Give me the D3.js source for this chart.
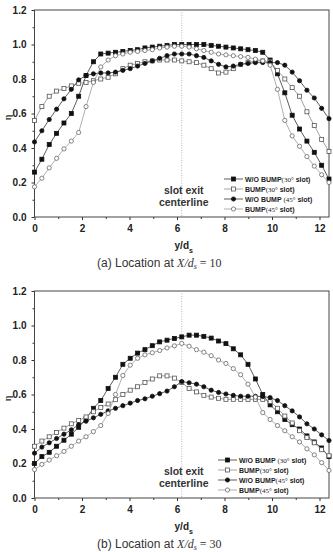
<!DOCTYPE html>
<html>
<head>
<meta charset="utf-8">
<script src="https://cdn.jsdelivr.net/npm/d3@7/dist/d3.min.js"></script>
<style>
  body { margin: 0; background: #fff; }
  svg { display: block; }
  .tick text { font-family: "Liberation Sans", Arial, sans-serif; font-weight: bold; font-size: 10px; fill: #222; }
  .tick line { stroke: #333; }
</style>
</head>
<body>
<script>
// y/ds positions of the measured points
const yds = [0, 0.31, 0.62, 0.93, 1.24, 1.55, 1.86, 2.17, 2.48, 2.79,
  3.1, 3.41, 3.72, 4.03, 4.34, 4.65, 4.96, 5.27, 5.58, 5.89,
  6.2, 6.51, 6.82, 7.13, 7.44, 7.75, 8.06, 8.37, 8.68, 8.99,
  9.3, 9.61, 9.92, 10.23, 10.54, 10.85, 11.16, 11.47, 11.78, 12.09, 12.4];

// (a) X/ds = 10
const a_woBump30 = [0.26, 0.335, 0.42, 0.485, 0.545, 0.60, 0.70, 0.82, 0.90, 0.945,
  0.95, 0.955, 0.96, 0.965, 0.97, 0.98, 0.985, 0.99, 0.995, 1.0,
  1.0, 1.0, 1.0, 1.0, 0.995, 0.99, 0.985, 0.98, 0.975, 0.97,
  0.965, 0.955, 0.91, 0.83, 0.72, 0.59, 0.51, 0.44, 0.375, 0.30, 0.22];
const a_bump30 = [0.56, 0.64, 0.70, 0.73, 0.745, 0.76, 0.775, 0.78, 0.79, 0.80,
  0.81, 0.83, 0.86, 0.88, 0.89, 0.90, 0.905, 0.91, 0.91, 0.91,
  0.905, 0.90, 0.895, 0.88, 0.86, 0.835, 0.84, 0.86, 0.885, 0.895,
  0.905, 0.905, 0.90, 0.85, 0.80, 0.75, 0.70, 0.61, 0.53, 0.45, 0.38];
const a_woBump45 = [0.435, 0.50, 0.565, 0.625, 0.685, 0.74, 0.795, 0.82, 0.83, 0.835,
  0.835, 0.84, 0.85, 0.86, 0.875, 0.89, 0.905, 0.92, 0.935, 0.945,
  0.945, 0.945, 0.935, 0.925, 0.905, 0.885, 0.87, 0.875, 0.885, 0.89,
  0.895, 0.895, 0.895, 0.895, 0.88, 0.84, 0.79, 0.735, 0.69, 0.63, 0.57];
const a_bump45 = [0.175, 0.225, 0.285, 0.34, 0.395, 0.44, 0.49, 0.64, 0.78, 0.87,
  0.91, 0.935, 0.945, 0.955, 0.96, 0.965, 0.97, 0.98, 0.985, 0.99,
  0.99, 0.985, 0.975, 0.965, 0.955, 0.945, 0.94, 0.935, 0.93, 0.925,
  0.915, 0.905, 0.88, 0.74, 0.56, 0.47, 0.41, 0.35, 0.295, 0.245, 0.20];

// (b) X/ds = 30
const b_woBump30 = [0.20, 0.24, 0.265, 0.30, 0.335, 0.37, 0.41, 0.46, 0.52, 0.565,
  0.635, 0.70, 0.775, 0.81, 0.84, 0.86, 0.883, 0.905, 0.915, 0.925,
  0.934, 0.944, 0.944, 0.937, 0.927, 0.91, 0.895, 0.865, 0.83, 0.775,
  0.69, 0.60, 0.54, 0.50, 0.455, 0.425, 0.40, 0.36, 0.325, 0.29, 0.24];
const b_bump30 = [0.30, 0.33, 0.355, 0.38, 0.405, 0.43, 0.45, 0.47, 0.50, 0.525,
  0.545, 0.57, 0.60, 0.625, 0.645, 0.67, 0.69, 0.708, 0.708, 0.695,
  0.67, 0.635, 0.615, 0.595, 0.585, 0.578, 0.572, 0.572, 0.572, 0.572,
  0.572, 0.572, 0.56, 0.52, 0.475, 0.435, 0.39, 0.35, 0.32, 0.28, 0.245];
const b_woBump45 = [0.26, 0.295, 0.32, 0.345, 0.37, 0.395, 0.425, 0.445, 0.465, 0.485,
  0.505, 0.52, 0.535, 0.55, 0.565, 0.575, 0.59, 0.605, 0.62, 0.645,
  0.675, 0.668, 0.66, 0.645, 0.625, 0.612, 0.603, 0.595, 0.59, 0.59,
  0.59, 0.588, 0.582, 0.565, 0.535, 0.505, 0.47, 0.43, 0.40, 0.366, 0.333];
const b_bump45 = [0.165, 0.195, 0.22, 0.245, 0.27, 0.30, 0.33, 0.355, 0.385, 0.42,
  0.49, 0.60, 0.71, 0.77, 0.81, 0.83, 0.842, 0.855, 0.87, 0.882,
  0.896, 0.88, 0.86, 0.845, 0.825, 0.80, 0.78, 0.75, 0.715, 0.66,
  0.585, 0.495, 0.455, 0.42, 0.39, 0.355, 0.325, 0.285, 0.25, 0.205, 0.16];

const yTicks = [0, 0.2, 0.4, 0.6, 0.8, 1.0, 1.2];
const yMinor = [0.1, 0.3, 0.5, 0.7, 0.9, 1.1];
const xTicks = [0, 2, 4, 6, 8, 10, 12];
const xMinor = [1, 3, 5, 7, 9, 11];
const slotCenter = 6.2;

// legend labels: [bold part, angle part, " slot)"]
const legendA = [["W/O BUMP", "(30°", " slot)"], ["BUMP", "(30°", " slot)"],
  ["W/O BUMP ", "(45°", " slot)"], ["BUMP", "(45°", " slot)"]];
const legendB = [["W/O BUMP ", "(30°", " slot)"], ["BUMP", "(30°", " slot)"],
  ["W/O BUMP", "(45°", " slot)"], ["BUMP", "(45°", " slot)"]];
const captionTags = ["(a)", "(b)"];
const captionValues = ["10", "30"];

// layout
const W = 333, H = 552;
const left = 34.5;
const plotW = 329 - left;
const plotH = 207;

const svg = d3.select("body").append("svg")
  .attr("width", W)
  .attr("height", H);

const x = d3.scaleLinear().domain([0, 12.4]).range([0, plotW]);
const y = d3.scaleLinear().domain([0, 1.2]).range([plotH, 0]);

// marker + line look for the 4 series (W/O 30, BUMP 30, W/O 45, BUMP 45)
const styles = [
  { shape: "square", fill: "#111", stroke: "#111", line: "#333" },
  { shape: "square", fill: "#fff", stroke: "#555", line: "#8a8a8a" },
  { shape: "circle", fill: "#111", stroke: "#111", line: "#333" },
  { shape: "circle", fill: "#fff", stroke: "#666", line: "#9a9a9a" }
];

function marker(g, st, cx, cy) {
  if (st.shape === "square") {
    g.append("rect")
      .attr("x", cx - 2).attr("y", cy - 2)
      .attr("width", 4).attr("height", 4)
      .attr("fill", st.fill).attr("stroke", st.stroke).attr("stroke-width", 0.8);
  } else {
    g.append("circle")
      .attr("cx", cx).attr("cy", cy).attr("r", 2.1)
      .attr("fill", st.fill).attr("stroke", st.stroke).attr("stroke-width", 0.8);
  }
}

function drawPanel(top, series, legend, legendX, idx) {
  const g = svg.append("g").attr("transform", "translate(" + left + "," + top + ")");

  // axes with outward ticks
  const xAxis = g.append("g").attr("transform", "translate(0," + plotH + ")")
    .call(d3.axisBottom(x).tickValues(xTicks).tickSize(3).tickPadding(5).tickFormat(d3.format("d")));
  const xAxisMinor = g.append("g").attr("transform", "translate(0," + plotH + ")")
    .call(d3.axisBottom(x).tickValues(xMinor).tickSize(2).tickFormat(""));
  const yAxis = g.append("g")
    .call(d3.axisLeft(y).tickValues(yTicks).tickSize(3).tickPadding(5).tickFormat(d3.format(".1f")));
  const yAxisMinor = g.append("g")
    .call(d3.axisLeft(y).tickValues(yMinor).tickSize(2).tickFormat(""));
  [xAxis, xAxisMinor, yAxis, yAxisMinor].forEach(a => a.select(".domain").remove());

  // frame
  g.append("rect")
    .attr("width", plotW).attr("height", plotH)
    .attr("fill", "none").attr("stroke", "#444").attr("stroke-width", 1);

  // slot exit centerline
  g.append("line")
    .attr("x1", x(slotCenter)).attr("x2", x(slotCenter))
    .attr("y1", 0).attr("y2", plotH)
    .attr("stroke", "#aaa").attr("stroke-width", 0.8)
    .attr("stroke-dasharray", "1,1.5");

  g.append("text")
    .attr("x", x(slotCenter) + 2).attr("y", 183.5)
    .attr("text-anchor", "middle")
    .style("font", "bold 10.5px 'Liberation Sans', Arial, sans-serif")
    .attr("fill", "#333")
    .text("slot exit");
  g.append("text")
    .attr("x", x(slotCenter) + 2).attr("y", 196)
    .attr("text-anchor", "middle")
    .style("font", "bold 10.5px 'Liberation Sans', Arial, sans-serif")
    .attr("fill", "#333")
    .text("centerline");

  // curves
  const line = d3.line().x((d, i) => x(yds[i])).y(d => y(d));
  series.forEach((vals, s) => {
    const st = styles[s];
    g.append("path")
      .datum(vals)
      .attr("d", line)
      .attr("fill", "none")
      .attr("stroke", st.line)
      .attr("stroke-width", 0.8);
    const mg = g.append("g");
    vals.forEach((v, i) => marker(mg, st, x(yds[i]), y(v)));
  });

  // legend
  legend.forEach((lab, s) => {
    const st = styles[s];
    const ly = 169 + s * 10;
    const lg = g.append("g");
    lg.append("line")
      .attr("x1", legendX - left).attr("x2", legendX - left + 19)
      .attr("y1", ly).attr("y2", ly)
      .attr("stroke", st.line).attr("stroke-width", 0.8);
    marker(lg, st, legendX - left + 9.5, ly);
    const t = lg.append("text")
      .attr("x", legendX - left + 21).attr("y", ly + 2.6)
      .attr("fill", "#222")
      .style("font-size", "7px");
    t.append("tspan").style("font-family", "'Liberation Sans', Arial, sans-serif")
      .style("font-weight", "bold").text(lab[0]);
    t.append("tspan").style("font-family", "'Liberation Serif', 'Times New Roman', serif")
      .text(lab[1]);
    t.append("tspan").style("font-family", "'Liberation Sans', Arial, sans-serif")
      .style("font-weight", "bold").text(lab[2]);
  });

  // axis titles
  g.append("text")
    .attr("transform", "translate(" + (-27) + "," + (plotH / 2 + 4) + ") rotate(-90)")
    .attr("text-anchor", "middle")
    .attr("dy", "0.35em")
    .style("font", "bold 10px 'Liberation Serif', serif")
    .attr("fill", "#333")
    .text("η");

  const xl = g.append("text")
    .attr("x", x(slotCenter) + 2).attr("y", 239)
    .attr("text-anchor", "middle")
    .style("font", "bold 10px 'Liberation Sans', Arial, sans-serif")
    .attr("fill", "#222");
  xl.append("tspan").text("y/d");
  xl.append("tspan").attr("dy", 4).style("font-size", "7px").text("s");

  // caption
  const cap = g.append("text")
    .attr("x", 97 - left).attr("y", 257)
    .attr("fill", "#333")
    .style("font-size", "12px");
  cap.append("tspan").style("font-family", "'Liberation Sans', Arial, sans-serif")
    .text(captionTags[idx] + " Location at  ");
  cap.append("tspan").style("font-family", "'Liberation Serif', serif").style("font-style", "italic")
    .text("X/d");
  cap.append("tspan").attr("dy", 2).style("font-family", "'Liberation Serif', serif")
    .style("font-style", "italic").style("font-size", "8px").text("s");
  cap.append("tspan").attr("dy", -2).style("font-family", "'Liberation Serif', serif")
    .text(" = " + captionValues[idx]);
}

drawPanel(10, [a_woBump30, a_bump30, a_woBump45, a_bump45], legendA, 224, 0);
drawPanel(291, [b_woBump30, b_bump30, b_woBump45, b_bump45], legendB, 218, 1);
</script>
</body>
</html>
